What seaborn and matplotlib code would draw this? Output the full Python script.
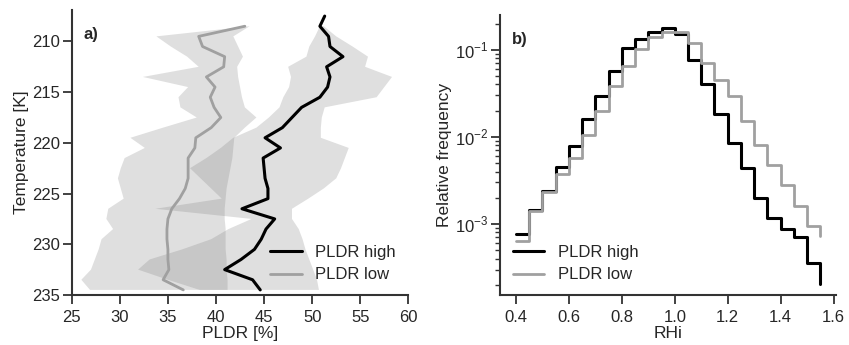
import numpy as np
import matplotlib
matplotlib.use('Agg')
import matplotlib.pyplot as plt
import seaborn as sns

# panel a: PLDR profiles vs temperature (1 K bins)
temp_line = np.arange(207.5, 235.0, 1.0)       # 207.5 .. 234.5
pldr_high = [51.3, 50.8, 51.7, 51.85, 53.2, 51.5, 51.85, 51.6, 50.8, 48.9,
             47.9, 46.9, 45.1, 46.7, 44.9, 45.0, 45.1, 45.4, 45.4, 42.7,
             46.1, 45.2, 44.7, 44.0, 42.6, 40.9, 43.8, 44.6]
temp_low = np.arange(208.5, 235.0, 1.0)        # 208.5 .. 234.5
pldr_low = [43.0, 38.2, 38.6, 40.9, 40.8, 39.0, 39.9, 39.4, 39.8, 40.5,
            39.5, 37.9, 37.8, 37.1, 37.1, 37.1, 36.8, 36.2, 35.4, 35.0,
            34.9, 34.9, 35.0, 35.0, 35.1, 34.5, 36.6]

# spread bands (left / right edges)
temp_band = np.arange(208.5, 235.0, 1.0)
high_left = [50.8, 50.3, 49.7, 49.4, 47.5, 47.8, 47.6, 47.0, 46.6, 45.5,
             44.2, 41.8, 40.5, 39.0, 37.3, 38.4, 39.5, 40.6, 33.7, 43.7,
             41.3, 39.5, 36.5, 33.1, 31.9, 35.0, 38.3]
high_right = [51.2, 52.5, 54.2, 55.8, 55.5, 58.3, 57.5, 56.7, 51.3, 51.0,
              50.9, 50.9, 53.8, 53.4, 53.0, 52.5, 51.2, 49.6, 47.9, 47.9,
              48.6, 49.0, 49.3, 49.7, 50.1, 50.5, 50.7]
low_right = [43.5, 41.8, 42.3, 42.8, 42.2, 42.3, 42.5, 42.7, 43.0, 44.2,
             43.0, 41.9, 41.8, 41.7, 41.5, 41.3, 41.1, 41.0, 40.9, 40.9,
             41.0, 41.0, 41.0, 41.1, 41.1, 41.2, 41.2]
temp_low_left = np.arange(209.5, 235.0, 1.0)
low_left = [33.8, 35.3, 37.0, 38.2, 32.4, 37.1, 36.1, 36.3, 38.0, 34.5,
            31.1, 32.6, 30.5, 30.1, 29.8, 30.1, 30.4, 28.8, 28.6, 29.3,
            28.1, 27.8, 27.4, 27.0, 26.0, 26.9]

# panel b: RHi histograms (bin left edges, step 'post')
rhi_edges = np.round(np.arange(0.40, 1.551, 0.05), 2)
freq_high = [7.6e-4, 1.45e-3, 2.42e-3, 4.56e-3, 7.95e-3, 0.0161, 0.0291, 0.0574,
             0.106, 0.134, 0.160, 0.177, 0.151, 0.0767, 0.0403, 0.0184,
             0.00845, 0.00436, 0.00201, 0.00116, 8.8e-4, 7.0e-4, 3.6e-4, 2.04e-4]
freq_low = [6.4e-4, 1.4e-3, 2.3e-3, 3.76e-3, 5.74e-3, 0.01055, 0.0199, 0.0379,
            0.0655, 0.102, 0.139, 0.158, 0.158, 0.119, 0.0703, 0.0452,
            0.0296, 0.0154, 0.0081, 0.00477, 0.00281, 0.00161, 9.6e-4, 7.3e-4]

sns.set_style('ticks')
plt.rcParams['font.family'] = ['Liberation Sans', 'DejaVu Sans']
plt.rcParams['font.size'] = 11
plt.rcParams['mathtext.fontset'] = 'custom'
plt.rcParams['mathtext.rm'] = 'Liberation Sans'

dark = '#333333'
grey_line = '#a0a0a0'

fig = plt.figure(figsize=(8.49, 3.45), dpi=100)
ax1 = fig.add_axes([0.0845, 0.145, 0.3965, 0.826])
ax2 = fig.add_axes([0.589, 0.145, 0.396, 0.812])

# --- panel a
ax1.fill(np.r_[high_right, high_left[::-1]], np.r_[temp_band, temp_band[::-1]],
         color='grey', alpha=0.25, lw=0)
ax1.fill(np.r_[low_right, low_left[::-1]], np.r_[temp_low, temp_low_left[::-1]],
         color='grey', alpha=0.25, lw=0)
sns.lineplot(x=pldr_high, y=temp_line, sort=False, estimator=None, ax=ax1,
             color='black', lw=2.2, label='PLDR high')
sns.lineplot(x=pldr_low, y=temp_low, sort=False, estimator=None, ax=ax1,
             color=grey_line, lw=2.0, label='PLDR low')
ax1.set_xlim(25, 60)
ax1.set_ylim(235, 206.9)
ax1.set_xticks(range(25, 61, 5))
ax1.set_yticks(range(210, 236, 5))
ax1.set_xlabel('PLDR [%]', fontsize=12.5, labelpad=1)
ax1.set_ylabel('Temperature [K]', fontsize=12.5, labelpad=2)
ax1.text(0.034, 0.94, 'a)', transform=ax1.transAxes, fontsize=12,
         fontweight='bold', va='top')
ax1.legend(loc='lower right', frameon=False, fontsize=12, handlelength=1.9,
           bbox_to_anchor=(1.0, 0.0), borderaxespad=0.35, labelspacing=0.45)

# --- panel b
sns.lineplot(x=rhi_edges, y=freq_high, ax=ax2, color='black', lw=2.2,
             drawstyle='steps-post', label='PLDR high')
sns.lineplot(x=rhi_edges, y=freq_low, ax=ax2, color=grey_line, lw=2.0,
             drawstyle='steps-post', label='PLDR low')
ax2.set_yscale('log')
ax2.set_xlim(0.34, 1.61)
ax2.set_ylim(1.53e-4, 0.252)
ax2.set_xticks(np.round(np.arange(0.4, 1.61, 0.2), 1))
ax2.set_xticklabels(['0.4', '0.6', '0.8', '1.0', '1.2', '1.4', '1.6'])
ax2.set_yticks([1e-3, 1e-2, 1e-1])
ax2.set_yticklabels([r'$10^{-3}$', r'$10^{-2}$', r'$10^{-1}$'])
ax2.set_xlabel('RHi', fontsize=12.5, labelpad=1)
ax2.set_ylabel('Relative frequency', fontsize=12.5, labelpad=2)
ax2.text(0.035, 0.94, 'b)', transform=ax2.transAxes, fontsize=12,
         fontweight='bold', va='top')
ax2.legend(loc='lower left', frameon=False, fontsize=12, handlelength=1.9,
           bbox_to_anchor=(0.0, 0.0), borderaxespad=0.35, labelspacing=0.45)

for ax in (ax1, ax2):
    sns.despine(ax=ax)
    for s in ('left', 'bottom'):
        ax.spines[s].set_color(dark)
        ax.spines[s].set_linewidth(1.5)
    ax.tick_params(which='major', length=6.5, width=1.3, color=dark,
                   labelsize=12, pad=2)
    ax.tick_params(which='minor', length=3.5, width=1.0, color=dark)
    ax.tick_params(axis='x', which='major', pad=4)

fig.savefig('out.png', dpi=100)
